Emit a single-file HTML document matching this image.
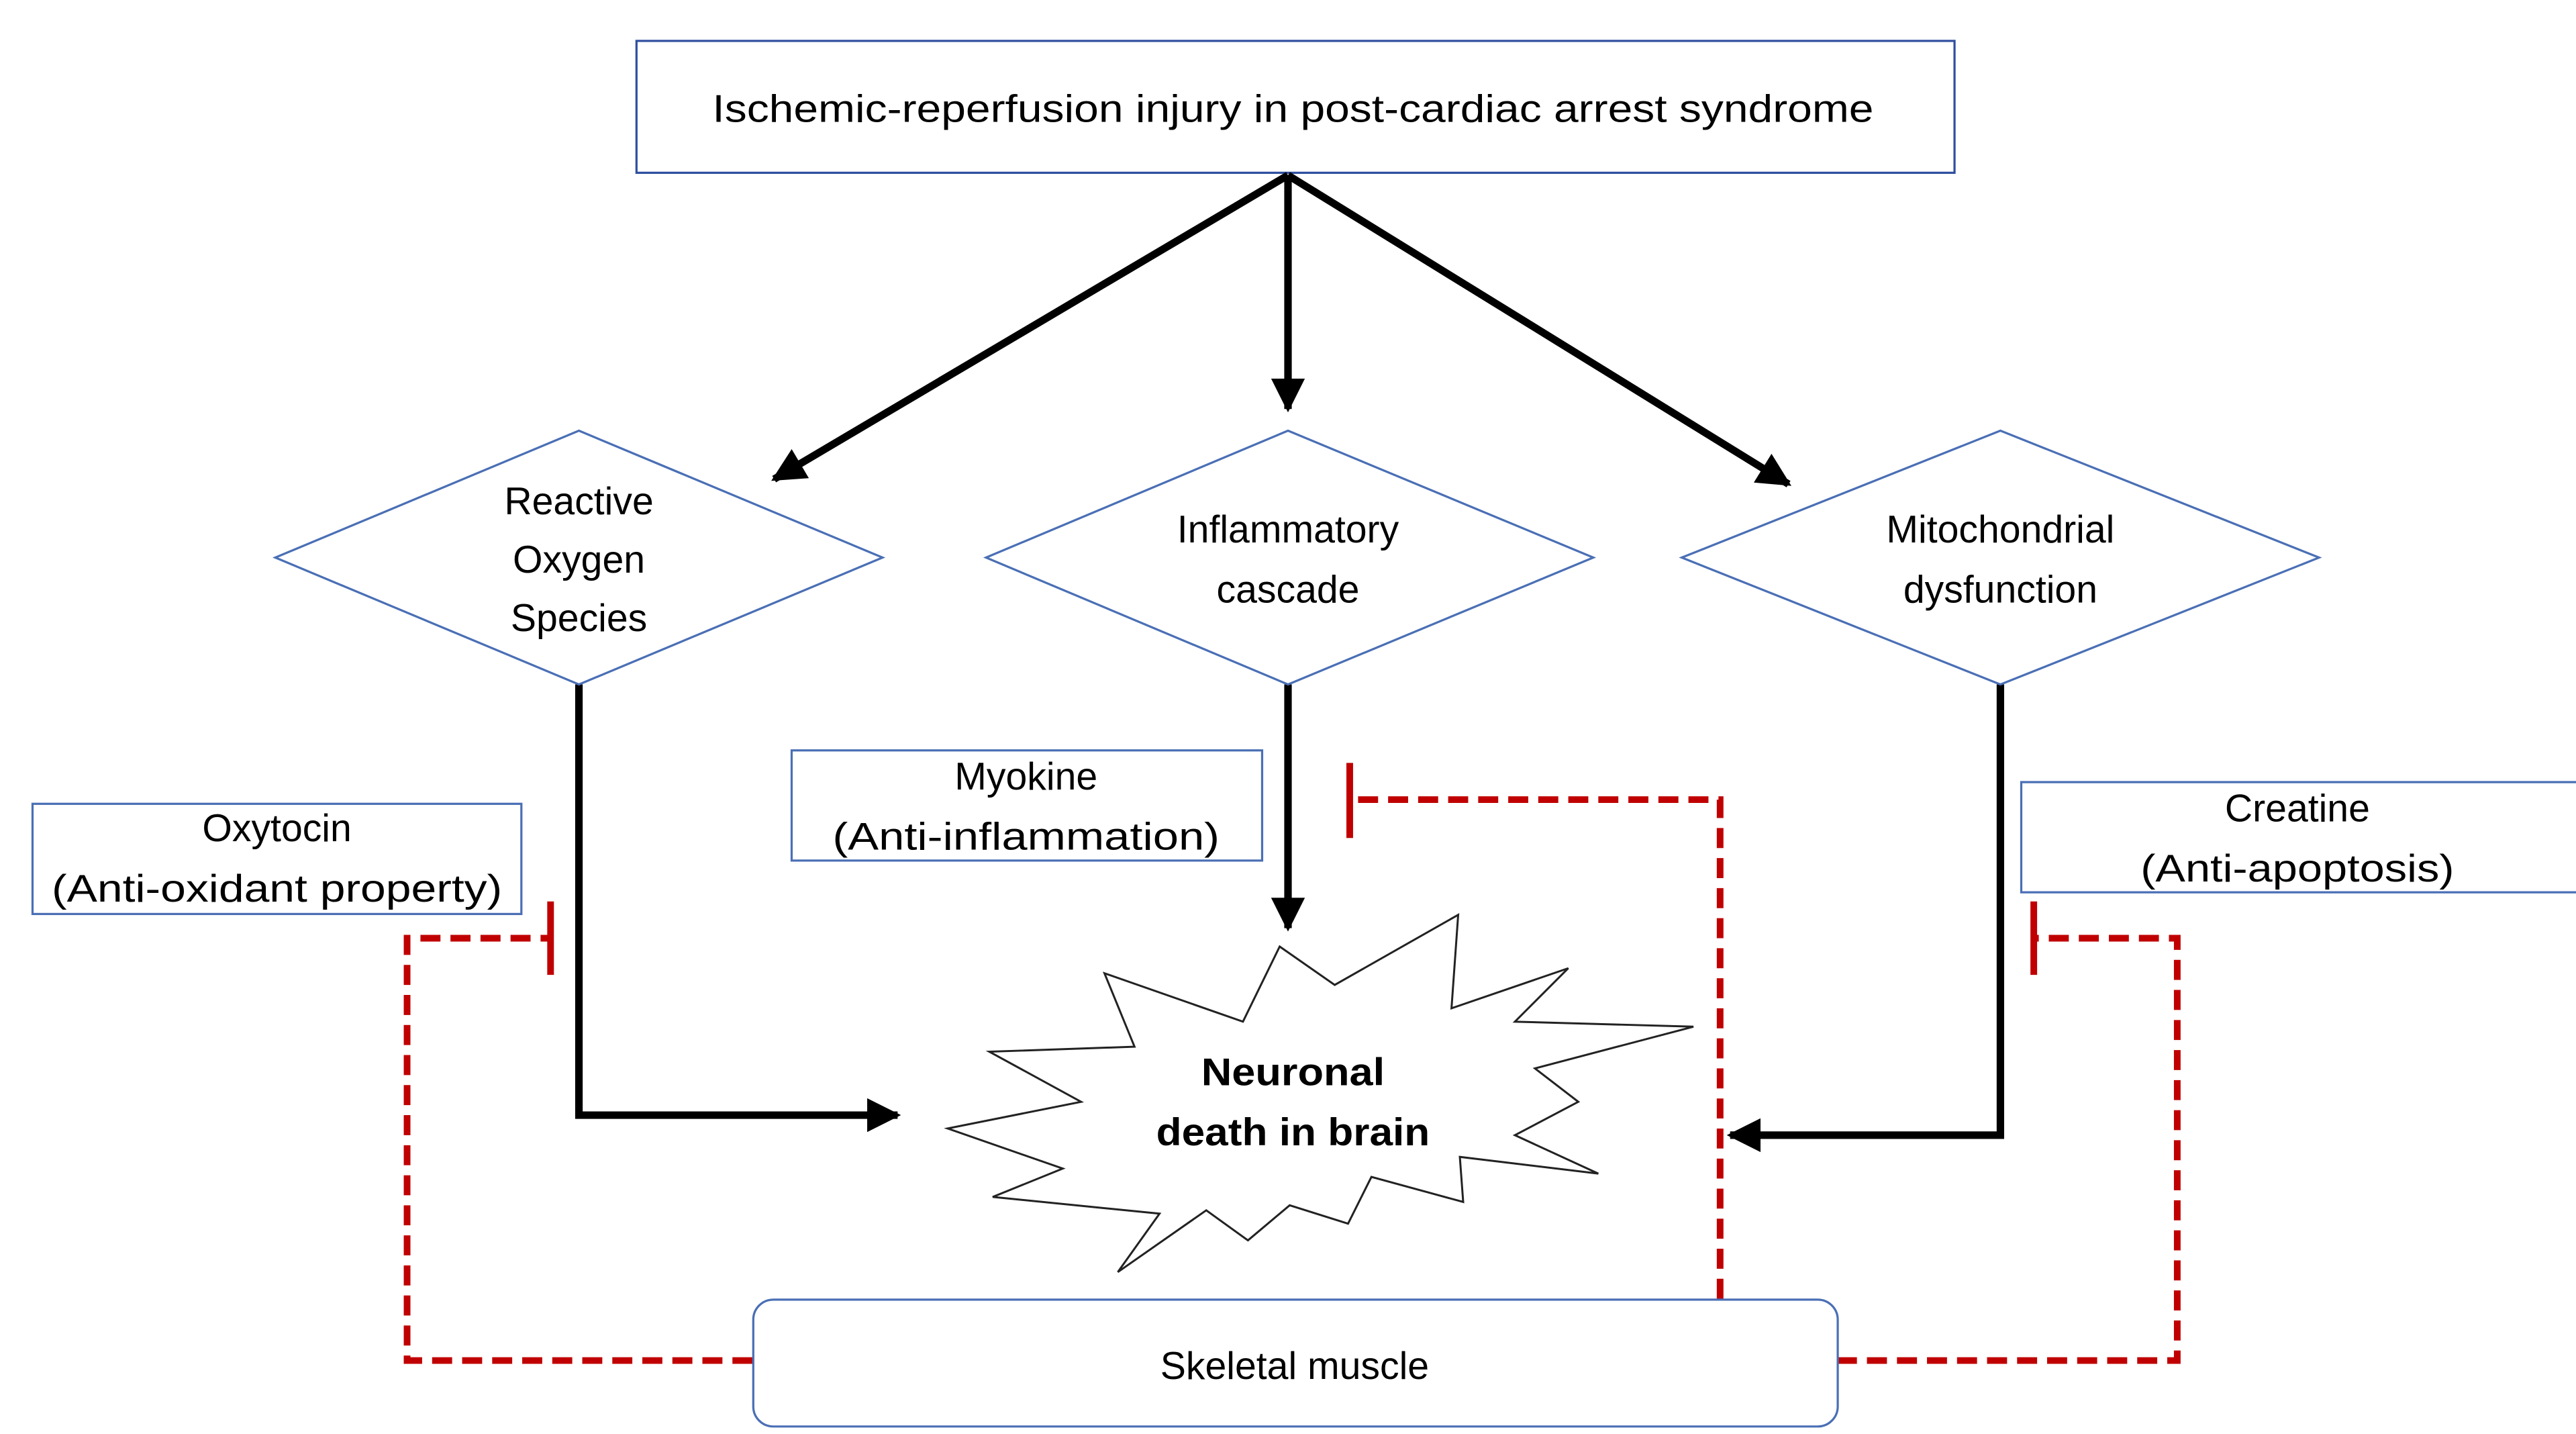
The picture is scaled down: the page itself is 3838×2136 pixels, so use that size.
<!DOCTYPE html>
<html><head><meta charset="utf-8"><style>html,body{margin:0;padding:0;background:#fff}svg{display:block}</style></head><body>
<svg width="3838" height="2136" viewBox="0 0 1544 859" preserveAspectRatio="none" xmlns="http://www.w3.org/2000/svg" font-family="Liberation Sans, sans-serif" font-size="23" fill="#000">
<defs>
<marker id="ah" viewBox="0 0 10 10" refX="9" refY="5" markerWidth="4.5" markerHeight="4.5" orient="auto" markerUnits="strokeWidth"><path d="M0,0 L10,5 L0,10 z" fill="#000"/></marker>
</defs>
<rect x="381.5" y="24.5" width="790" height="79" fill="#fff" stroke="#2f4f9f" stroke-width="1.3"/>
<text x="775" y="73" text-anchor="middle" textLength="696" lengthAdjust="spacingAndGlyphs">Ischemic-reperfusion injury in post-cardiac arrest syndrome</text>
<g stroke="#000" stroke-width="4.5" fill="none">
<line x1="772" y1="105" x2="464" y2="287" marker-end="url(#ah)"/>
<line x1="772" y1="105" x2="772" y2="245" marker-end="url(#ah)"/>
<line x1="772" y1="105" x2="1072" y2="290" marker-end="url(#ah)"/>
<polyline points="347,410 347,668 538,668" marker-end="url(#ah)"/>
<line x1="772" y1="410" x2="772" y2="556" marker-end="url(#ah)"/>
<polyline points="1199,410 1199,680 1037,680" marker-end="url(#ah)"/>
</g>
<g fill="#fff" stroke="#4a6fb5" stroke-width="1.3">
<polygon points="347,258 529,334 347,410 165,334"/>
<polygon points="772,258 955,334 772,410 591,334"/>
<polygon points="1199,258 1390,334 1199,410 1008,334"/>
<rect x="474.5" y="449.5" width="282" height="66"/>
<rect x="19.5" y="481.5" width="293" height="66"/>
<path d="M1544,468.5 H1211.5 V534.5 H1544"/>
</g>
<text x="347" y="308" text-anchor="middle">Reactive</text>
<text x="347" y="343" text-anchor="middle">Oxygen</text>
<text x="347" y="378" text-anchor="middle">Species</text>
<text x="772" y="325" text-anchor="middle">Inflammatory</text>
<text x="772" y="361" text-anchor="middle">cascade</text>
<text x="1199" y="325" text-anchor="middle">Mitochondrial</text>
<text x="1199" y="361" text-anchor="middle">dysfunction</text>
<text x="615" y="473" text-anchor="middle">Myokine</text>
<text x="615" y="509" text-anchor="middle" textLength="232" lengthAdjust="spacingAndGlyphs">(Anti-inflammation)</text>
<text x="166" y="504" text-anchor="middle">Oxytocin</text>
<text x="166" y="540" text-anchor="middle" textLength="270" lengthAdjust="spacingAndGlyphs">(Anti-oxidant property)</text>
<text x="1377" y="492" text-anchor="middle">Creatine</text>
<text x="1377" y="528" text-anchor="middle" textLength="188" lengthAdjust="spacingAndGlyphs">(Anti-apoptosis)</text>
<polygon fill="#fff" stroke="#222" stroke-width="1.2" points="767,567 800,590 874,548 870,604 940,580 908,612 1015,615 920,640 946,660 908,680 958,703 875,693 877,720 822,705 808,733 773,722 748,743 723,725 670,762 695,727 595,717 637,700 568,676 648,660 593,630 680,627 662,583 745,612"/>
<text x="775" y="650" text-anchor="middle" font-weight="bold" textLength="110" lengthAdjust="spacingAndGlyphs">Neuronal</text>
<text x="775" y="686" text-anchor="middle" font-weight="bold" textLength="164" lengthAdjust="spacingAndGlyphs">death in brain</text>
<g stroke="#c00000" stroke-width="4" fill="none" stroke-dasharray="12,6">
<polyline points="451,815 244,815 244,562 330,562"/>
<polyline points="1031,778 1031,479 809,479"/>
<polyline points="1101,815 1305,815 1305,562 1219,562"/>
</g>
<g stroke="#c00000" stroke-width="4">
<line x1="330" y1="540" x2="330" y2="584"/>
<line x1="809" y1="457" x2="809" y2="502"/>
<line x1="1219" y1="540" x2="1219" y2="584"/>
</g>
<rect x="451.5" y="778.5" width="650" height="76" rx="12" fill="#fff" stroke="#4a6fb5" stroke-width="1.3"/>
<text x="776" y="826" text-anchor="middle">Skeletal muscle</text>
</svg>
</body></html>
